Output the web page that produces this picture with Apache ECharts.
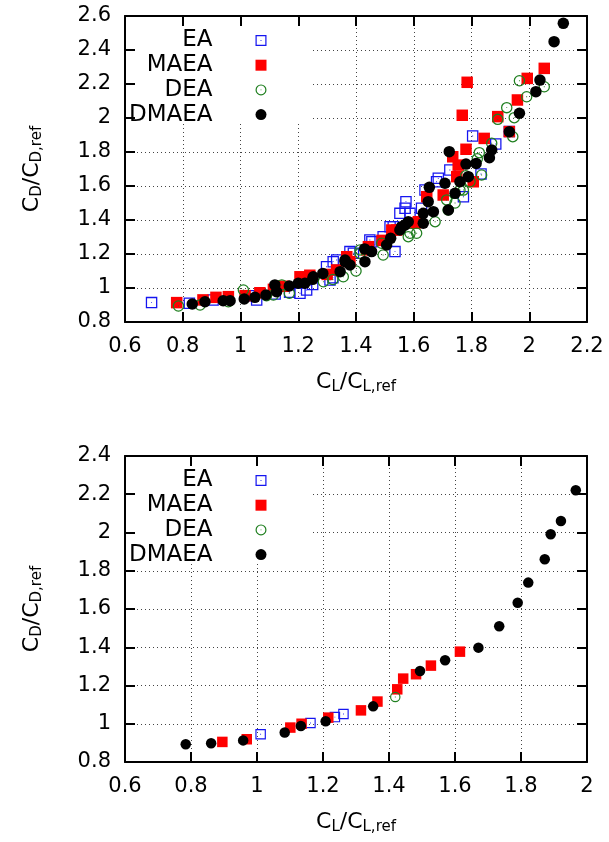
<!DOCTYPE html>
<html>
<head>
<meta charset="utf-8">
<script src="https://cdn.jsdelivr.net/npm/echarts@6/dist/echarts.min.js"></script>
<style>
html,body{margin:0;padding:0;background:#fff;}
#c{width:609px;height:842px;}
</style>
</head>
<body>
<div id="c"></div>
<script>
// ---------- data (top panel) ----------
var topEA = [[0.692,0.914],[0.823,0.910],[0.905,0.930],[1.030,0.955],[1.056,0.929],[1.120,0.965],[1.170,0.975],[1.206,0.969],[1.229,0.988],[1.250,1.020],[1.298,1.125],[1.310,1.047],[1.320,1.060],[1.321,1.155],[1.333,1.165],[1.379,1.214],[1.391,1.204],[1.448,1.282],[1.455,1.272],[1.494,1.302],[1.518,1.361],[1.529,1.361],[1.535,1.214],[1.552,1.439],[1.570,1.469],[1.573,1.508],[1.587,1.439],[1.627,1.469],[1.639,1.576],[1.679,1.625],[1.685,1.645],[1.725,1.694],[1.772,1.537],[1.804,1.894],[1.833,1.671],[1.884,1.847],[1.931,1.920]];
var topMAEA = [[0.779,0.914],[0.870,0.930],[0.915,0.945],[0.958,0.949],[1.016,0.955],[1.067,0.972],[1.114,0.992],[1.150,1.010],[1.206,1.066],[1.240,1.075],[1.300,1.080],[1.333,1.106],[1.368,1.184],[1.379,1.155],[1.437,1.224],[1.443,1.243],[1.490,1.280],[1.524,1.341],[1.541,1.341],[1.604,1.381],[1.616,1.390],[1.645,1.537],[1.702,1.547],[1.735,1.772],[1.749,1.655],[1.754,1.723],[1.768,2.016],[1.781,1.816],[1.785,2.210],[1.806,1.625],[1.844,1.880],[1.891,2.008],[1.931,1.920],[1.959,2.106],[1.993,2.233],[2.052,2.292]];
var topDEA = [[0.785,0.894],[0.860,0.900],[0.958,0.919],[1.010,0.988],[1.090,0.955],[1.114,0.959],[1.143,1.018],[1.169,0.969],[1.287,1.037],[1.320,1.050],[1.356,1.066],[1.400,1.100],[1.414,1.204],[1.414,1.224],[1.489,1.263],[1.494,1.194],[1.581,1.302],[1.587,1.322],[1.610,1.322],[1.674,1.390],[1.714,1.518],[1.719,1.459],[1.743,1.500],[1.760,1.576],[1.772,1.576],[1.780,1.660],[1.795,1.625],[1.820,1.760],[1.827,1.796],[1.835,1.665],[1.870,1.851],[1.891,1.992],[1.922,2.061],[1.943,1.890],[1.948,2.002],[1.966,2.219],[1.991,2.125],[2.052,2.184]];
var topDMAEA = [[0.833,0.906],[0.877,0.919],[0.940,0.925],[0.964,0.925],[1.013,0.935],[1.050,0.945],[1.088,0.959],[1.119,1.018],[1.125,0.978],[1.169,1.012],[1.200,1.028],[1.223,1.028],[1.250,1.051],[1.252,1.066],[1.285,1.086],[1.345,1.096],[1.362,1.155],[1.362,1.165],[1.379,1.135],[1.430,1.230],[1.431,1.155],[1.454,1.214],[1.506,1.253],[1.520,1.292],[1.552,1.341],[1.558,1.361],[1.570,1.371],[1.581,1.390],[1.633,1.381],[1.633,1.439],[1.650,1.508],[1.654,1.592],[1.668,1.449],[1.708,1.616],[1.720,1.459],[1.723,1.802],[1.743,1.557],[1.760,1.625],[1.781,1.729],[1.789,1.655],[1.816,1.733],[1.862,1.766],[1.870,1.812],[1.931,1.919],[1.966,2.028],[2.023,2.155],[2.037,2.223],[2.086,2.449],[2.118,2.557]];

// ---------- data (bottom panel) ----------
var botEA = [[1.011,0.945],[1.162,1.004],[1.236,1.035],[1.262,1.051]];
var botMAEA = [[0.895,0.905],[0.969,0.919],[1.101,0.980],[1.135,1.000],[1.216,1.032],[1.315,1.070],[1.365,1.116],[1.425,1.180],[1.443,1.236],[1.482,1.259],[1.527,1.304],[1.615,1.377]];
var botDEA = [[1.419,1.140]];
var botDMAEA = [[0.784,0.893],[0.861,0.898],[0.958,0.913],[1.084,0.954],[1.133,0.988],[1.208,1.013],[1.352,1.091],[1.494,1.276],[1.570,1.332],[1.671,1.398],[1.734,1.510],[1.790,1.633],[1.822,1.738],[1.872,1.860],[1.890,1.991],[1.921,2.060],[1.966,2.221]];

var seriesNames = ['EA','MAEA','DEA','DMAEA'];
var topXTicks = {min:0.6, max:2.2, step:0.2};
var topYTicks = {min:0.8, max:2.6, step:0.2};
var botXTicks = {min:0.6, max:2.0, step:0.2};
var botYTicks = {min:0.8, max:2.4, step:0.2};

// ---------- styling ----------
var FONT = 'DejaVu Sans';
var symEA = 'path://M0,0H20V20H0Z M2.2,2.2V17.8H17.8V2.2Z M9.2,9.2H10.8V10.8H9.2Z';
var symDEA = 'path://M10,0A10,10,0,1,1,10,20A10,10,0,1,1,10,0Z M10,2.2A7.8,7.8,0,1,0,10,17.8A7.8,7.8,0,1,0,10,2.2Z M9.2,9.2H10.8V10.8H9.2Z';
var styles = {
  EA:{symbol:symEA, color:'#1515f0'},
  MAEA:{symbol:'rect', color:'#ff0000'},
  DEA:{symbol:symDEA, color:'#1f7f1f'},
  DMAEA:{symbol:'circle', color:'#000000'}
};

function fmt(v){ return String(+(+v).toFixed(1)); }

var chart = echarts.init(document.getElementById('c'));
var grids = [
  {left:125, top:16, width:462, height:306},
  {left:125, top:456, width:462, height:306}
];
var xT = [topXTicks, botXTicks], yT = [topYTicks, botYTicks];
var xAxes = [], yAxes = [];
var titleX = '{m|C}{s|L}{m|/C}{s|L,ref}';
var titleY = '{m|C}{s|D}{m|/C}{s|D,ref}';
var titleRich = {
  m:{fontSize:22, fontFamily:FONT, color:'#000', lineHeight:26},
  s:{fontSize:15, fontFamily:FONT, color:'#000', lineHeight:26, padding:[10,0,0,0]}
};
for (var g=0; g<2; g++){
  var xt = xT[g], yt = yT[g];
  xAxes.push({type:'value', gridIndex:g, position:'bottom', min:xt.min, max:xt.max, interval:xt.step, z:0,
    axisLine:{show:false}, axisTick:{show:false},
    axisLabel:{margin:14, fontSize:21, fontFamily:FONT, color:'#000', formatter:fmt},
    splitLine:{show:true, lineStyle:{color:'#444', width:1, type:[1,3]}},
    name:titleX, nameLocation:'middle', nameGap:47, nameTextStyle:{rich:titleRich}});
  yAxes.push({type:'value', gridIndex:g, position:'left', min:yt.min, max:yt.max, interval:yt.step, z:0,
    axisLine:{show:false}, axisTick:{show:false},
    axisLabel:{margin:14, fontSize:21, fontFamily:FONT, color:'#000', formatter:fmt},
    splitLine:{show:true, lineStyle:{color:'#444', width:1, type:[1,3]}},
    name:titleY, nameLocation:'middle', nameGap:80, nameRotate:90, nameTextStyle:{rich:titleRich}});
  ['bottom','top'].forEach(function(p){
    xAxes.push({type:'value', gridIndex:g, position:p, min:xt.min, max:xt.max, interval:xt.step, z:3,
      axisLine:{show:true, onZero:false, lineStyle:{color:'#000', width:2}},
      axisTick:{show:true, inside:true, length:10, lineStyle:{color:'#000', width:2}},
      axisLabel:{show:false}, splitLine:{show:false}});
  });
  ['left','right'].forEach(function(p){
    yAxes.push({type:'value', gridIndex:g, position:p, min:yt.min, max:yt.max, interval:yt.step, z:3,
      axisLine:{show:true, onZero:false, lineStyle:{color:'#000', width:2}},
      axisTick:{show:true, inside:true, length:10, lineStyle:{color:'#000', width:2}},
      axisLabel:{show:false}, splitLine:{show:false}});
  });
}

var dataSets = [
  {EA:topEA, MAEA:topMAEA, DEA:topDEA, DMAEA:topDMAEA},
  {EA:botEA, MAEA:botMAEA, DEA:botDEA, DMAEA:botDMAEA}
];
var symSizes = [11.5, 10.5];
var series = [];
for (var g2=0; g2<2; g2++){
  seriesNames.forEach(function(n){
    series.push({type:'scatter', name:n, xAxisIndex:g2*3, yAxisIndex:g2*3, z:2,
      data:dataSets[g2][n], symbol:styles[n].symbol, symbolSize:symSizes[g2],
      itemStyle:{color:styles[n].color, opacity:1}, emphasis:{disabled:true}, silent:true});
  });
}

function mkLegend(top){
  return {data:seriesNames, orient:'vertical', left:122.5, top:top, align:'right',
    itemWidth:11, itemHeight:11, itemGap:1.7, padding:0, selectedMode:false,
    formatter:function(n){ return '{a|'+n+'}'; },
    textStyle:{rich:{a:{width:90, align:'right', fontSize:23, fontFamily:FONT, color:'#000', lineHeight:20, padding:[0,38,0,0]}}}};
}

chart.setOption({
  animation:false,
  backgroundColor:'#fff',
  grid:grids,
  xAxis:xAxes,
  yAxis:yAxes,
  legend:[mkLegend(29), mkLegend(469)],
  graphic:[
    {type:'rect', z:1, shape:{x:126, y:17, width:184, height:106}, style:{fill:'#fff'}},
    {type:'rect', z:1, shape:{x:126, y:457, width:184, height:106}, style:{fill:'#fff'}}
  ],
  series:series
});
</script>
</body>
</html>
